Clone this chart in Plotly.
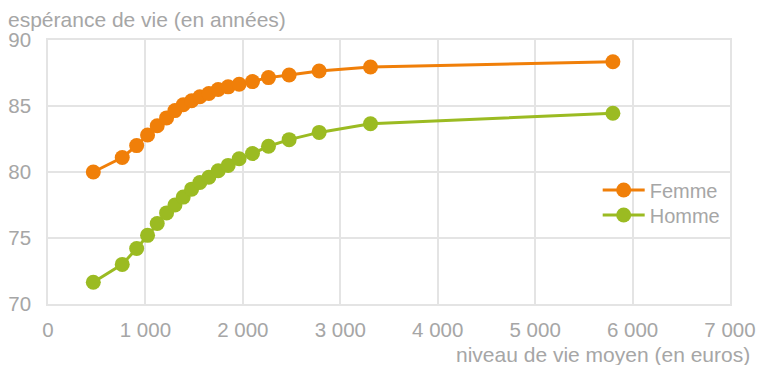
import plotly.graph_objects as go

niveau_vie = [465, 762, 910, 1022, 1121, 1217, 1303, 1388, 1474, 1559, 1651, 1747, 1849, 1962, 2099, 2263, 2475, 2783, 3310, 5798]
femme = [80.0, 81.1, 82.0, 82.8, 83.5, 84.1, 84.65, 85.1, 85.4, 85.7, 85.95, 86.25, 86.45, 86.65, 86.85, 87.15, 87.35, 87.65, 87.95, 88.35]
homme = [71.65, 73.0, 74.2, 75.2, 76.1, 76.9, 77.5, 78.1, 78.7, 79.2, 79.6, 80.1, 80.5, 81.0, 81.4, 81.95, 82.45, 83.0, 83.65, 84.45]

x_ticks = [0, 1000, 2000, 3000, 4000, 5000, 6000, 7000]
x_ticktext = ["0", "1 000", "2 000", "3 000", "4 000", "5 000", "6 000", "7 000"]
y_ticks = [70, 75, 80, 85, 90]

ORANGE = "#F07F09"
GREEN = "#9BBB22"
GRAY = "#A6A6A6"
GRID = "#E4E4E4"
FONT = "Liberation Sans, Arial, sans-serif"
FS_TICK = 20.5
FS_LEG = 20
FS_TITLE = 21

fig = go.Figure()
fig.add_trace(go.Scatter(x=niveau_vie, y=femme, name="Femme", mode="lines+markers", legend="legend",
                         line=dict(color=ORANGE, width=3), marker=dict(color=ORANGE, size=15)))
fig.add_trace(go.Scatter(x=niveau_vie, y=homme, name="Homme", mode="lines+markers", legend="legend2",
                         line=dict(color=GREEN, width=3), marker=dict(color=GREEN, size=15)))

leg_common = dict(x=0.806, xanchor="left", yanchor="middle", bgcolor="rgba(0,0,0,0)",
                  font=dict(size=FS_LEG, color=GRAY), itemwidth=42)

fig.update_layout(
    width=759, height=365,
    margin=dict(l=48, r=29, t=40, b=61, autoexpand=False),
    paper_bgcolor="white", plot_bgcolor="white",
    font=dict(family=FONT, size=FS_TICK, color=GRAY),
    showlegend=True,
    legend=dict(y=0.432, **leg_common),
    legend2=dict(y=0.337, **leg_common),
    xaxis=dict(range=[0, 7000], tickvals=x_ticks, ticktext=x_ticktext, showgrid=True,
               gridcolor=GRID, gridwidth=1.5, zeroline=False, showline=True, linecolor=GRID,
               linewidth=1.5, mirror=True, ticks="", automargin=False, ticklabelstandoff=7,
               tickfont=dict(size=FS_TICK, color=GRAY)),
    yaxis=dict(range=[70, 90], tickvals=y_ticks, showgrid=True, gridcolor=GRID, gridwidth=1.5,
               zeroline=False, showline=True, linecolor=GRID, linewidth=1.5, mirror=True,
               ticks="", automargin=False, ticklabelstandoff=11,
               tickfont=dict(size=FS_TICK, color=GRAY)),
    annotations=[
        dict(text="espérance de vie (en années)", xref="paper", yref="paper", x=-0.0616, y=1.0,
             yshift=21, xanchor="left", yanchor="middle", showarrow=False,
             font=dict(size=FS_TITLE, color=GRAY)),
        dict(text="niveau de vie moyen (en euros)", xref="paper", yref="paper", x=1.032, y=0,
             yshift=-50, xanchor="right", yanchor="middle", showarrow=False,
             font=dict(size=FS_TITLE, color=GRAY)),
    ],
)

fig.write_html(
    "out.html",
    config={"displayModeBar": False},
    post_script="document.documentElement.style.overflow='hidden';"
                "document.body.style.margin='0px';document.body.style.overflow='hidden';",
)
